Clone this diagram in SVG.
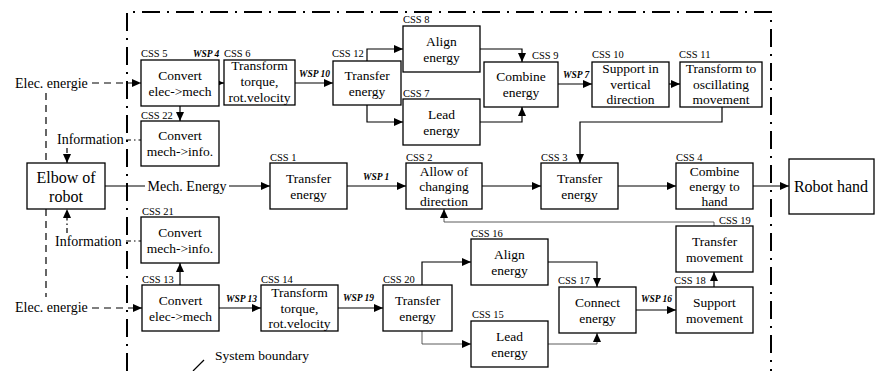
<svg xmlns="http://www.w3.org/2000/svg" width="875" height="371" viewBox="0 0 875 371" font-family="'Liberation Serif', 'Times New Roman', 'DejaVu Serif', serif">
<defs>
<marker id="ah" markerUnits="userSpaceOnUse" markerWidth="9" markerHeight="8" refX="9" refY="4" orient="auto">
<path d="M0,0 L9,4 L0,8 z" fill="#000"/>
</marker>
<style>
text{font-family:'Liberation Serif','Times New Roman','DejaVu Serif',serif;fill:#000}
.box{fill:#fff;stroke:#000;stroke-width:1.3}
.t{font-size:13.5px;text-anchor:middle}
.big{font-size:16px;text-anchor:middle}
.css{font-size:10.5px}
.wsp{font-size:9.5px;font-weight:bold;font-style:italic}
.lbl{font-size:14px}
.c{fill:none;stroke:#000;stroke-width:1.2}
.thin{fill:none;stroke:#333;stroke-width:0.8}
.a{marker-end:url(#ah)}
.dash{stroke-dasharray:7,5}
.dd{stroke-dasharray:5,3,1.5,3}
.bound{fill:none;stroke:#000;stroke-width:2;stroke-dasharray:18,7,2,7}
</style>
</defs>
<rect width="875" height="371" fill="#fff"/>
<path class="bound" d="M127,371 L127,12 L771,12 L771,371"/>

<g id="connectors">
<path class="c dash a" d="M92,83 H141"/>
<path class="c dash" d="M46,93 V163"/>
<path class="c dd" d="M126,140 H141"/>
<path class="c dd a" d="M67,148 V163"/>
<path class="c dd" d="M126,241 H141"/>
<path class="c dd a" d="M67,233 V209"/>
<path class="c dash a" d="M92,308 H142"/>
<path class="c dash" d="M46,209 V297"/>
<path class="c" d="M105,186 H145"/>
<path class="c a" d="M229,186 H270"/>
<path class="c a" d="M219,83 H224"/>
<path class="c a" d="M180,106 V121"/>
<path class="c a" d="M295,83 H333"/>
<path class="c a" d="M367,61 V49 H403"/>
<path class="c a" d="M367,105 V122 H403"/>
<path class="c a" d="M480,49 H522 V62"/>
<path class="c a" d="M480,122 H522 V107"/>
<path class="c a" d="M558,84 H592"/>
<path class="c a" d="M669,84 H680"/>
<path class="c a" d="M722,107 V122 H580 V163"/>
<path class="c a" d="M347,186 H406"/>
<path class="c a" d="M482,186 H541"/>
<path class="c a" d="M618,186 H676"/>
<path class="c a" d="M753,186 H789"/>
<path class="thin a" d="M714,226 V222 H444 V209"/>
<path class="c a" d="M180,285 V263"/>
<path class="c a" d="M219,308 H261"/>
<path class="c a" d="M338,308 H383"/>
<path class="c a" d="M422,285 V262 H471"/>
<path class="thin a" d="M422,331 V344 H471"/>
<path class="c a" d="M548,262 H597 V287"/>
<path class="thin a" d="M548,344 H597 V333"/>
<path class="c a" d="M636,310 H676"/>
<path class="c a" d="M714,287 V272"/>
<path class="c" d="M193,371 L204,360" stroke-width="1"/>
</g>

<g id="labels">
<text class="lbl" x="15" y="88">Elec. energie</text>
<text class="lbl" x="57" y="144">Information</text>
<text class="lbl" x="55" y="246">Information</text>
<text class="lbl" x="15" y="312">Elec. energie</text>
<text class="lbl" x="187" y="191" text-anchor="middle" font-size="14.5">Mech. Energy</text>
<text x="215" y="360" font-size="13.5">System boundary</text>
<text class="wsp" x="193" y="57">WSP 4</text>
<text class="wsp" x="299" y="77">WSP 10</text>
<text class="wsp" x="563" y="78">WSP 7</text>
<text class="wsp" x="363" y="180">WSP 1</text>
<text class="wsp" x="226" y="302">WSP 13</text>
<text class="wsp" x="343" y="301">WSP 19</text>
<text class="wsp" x="641" y="302">WSP 16</text>
</g>

<g id="elbow"><rect class="box" x="27" y="163" width="78" height="46"/><text class="big" x="66" y="183">Elbow of</text><text class="big" x="66" y="202">robot</text></g>
<g id="hand"><rect class="box" x="789" y="159" width="85" height="55"/><text class="big" x="831" y="192">Robot hand</text></g>

<g id="css5"><text class="css" x="141" y="57">CSS 5</text><rect class="box" x="141" y="60" width="78" height="46"/><text class="t" x="180" y="79.5">Convert</text><text class="t" x="180" y="95.5">elec-&gt;mech</text></g>
<g id="css6"><text class="css" x="224" y="57">CSS 6</text><rect class="box" x="224" y="60" width="71" height="45"/><text class="t" x="259.5" y="70">Transform</text><text class="t" x="259.5" y="86">torque,</text><text class="t" x="259.5" y="102">rot.velocity</text></g>
<g id="css12"><text class="css" x="332" y="57">CSS 12</text><rect class="box" x="333" y="61" width="68" height="44"/><text class="t" x="367" y="79.5">Transfer</text><text class="t" x="367" y="95.5">energy</text></g>
<g id="css8"><text class="css" x="403" y="23">CSS 8</text><rect class="box" x="403" y="26" width="77" height="46"/><text class="t" x="441.5" y="45.5">Align</text><text class="t" x="441.5" y="61.5">energy</text></g>
<g id="css7"><text class="css" x="403" y="97">CSS 7</text><rect class="box" x="403" y="99" width="77" height="46"/><text class="t" x="441.5" y="118.5">Lead</text><text class="t" x="441.5" y="134.5">energy</text></g>
<g id="css9"><text class="css" x="532" y="59">CSS 9</text><rect class="box" x="484" y="62" width="74" height="45"/><text class="t" x="521" y="81">Combine</text><text class="t" x="521" y="97">energy</text></g>
<g id="css10"><text class="css" x="592" y="58">CSS 10</text><rect class="box" x="592" y="62" width="77" height="45"/><text class="t" x="630.5" y="73">Support in</text><text class="t" x="630.5" y="88.5">vertical</text><text class="t" x="630.5" y="104">direction</text></g>
<g id="css11"><text class="css" x="679" y="58">CSS 11</text><rect class="box" x="680" y="62" width="82" height="45"/><text class="t" x="721" y="73">Transform to</text><text class="t" x="721" y="88.5">oscillating</text><text class="t" x="721" y="104">movement</text></g>
<g id="css22"><text class="css" x="141" y="119">CSS 22</text><rect class="box" x="141" y="121" width="78" height="45"/><text class="t" x="180" y="140">Convert</text><text class="t" x="180" y="156">mech-&gt;info.</text></g>
<g id="css1"><text class="css" x="270" y="161">CSS 1</text><rect class="box" x="270" y="163" width="77" height="46"/><text class="t" x="308.5" y="182.5">Transfer</text><text class="t" x="308.5" y="198.5">energy</text></g>
<g id="css2"><text class="css" x="406" y="161">CSS 2</text><rect class="box" x="406" y="163" width="76" height="46"/><text class="t" x="444" y="175.5">Allow of</text><text class="t" x="444" y="190.5">changing</text><text class="t" x="444" y="205.5">direction</text></g>
<g id="css3"><text class="css" x="541" y="161">CSS 3</text><rect class="box" x="541" y="163" width="77" height="46"/><text class="t" x="579.5" y="182.5">Transfer</text><text class="t" x="579.5" y="198.5">energy</text></g>
<g id="css4"><text class="css" x="676" y="161">CSS 4</text><rect class="box" x="676" y="163" width="77" height="46"/><text class="t" x="714.5" y="175.5">Combine</text><text class="t" x="714.5" y="190.5">energy to</text><text class="t" x="714.5" y="205.5">hand</text></g>
<g id="css21"><text class="css" x="142" y="215">CSS 21</text><rect class="box" x="141" y="217" width="78" height="46"/><text class="t" x="180" y="236.5">Convert</text><text class="t" x="180" y="252.5">mech-&gt;info.</text></g>
<g id="css19"><text class="css" x="719" y="224">CSS 19</text><rect class="box" x="676" y="226" width="77" height="46"/><text class="t" x="714.5" y="245.5">Transfer</text><text class="t" x="714.5" y="261.5">movement</text></g>
<g id="css16"><text class="css" x="471" y="237">CSS 16</text><rect class="box" x="471" y="239" width="77" height="46"/><text class="t" x="509.5" y="258.5">Align</text><text class="t" x="509.5" y="274.5">energy</text></g>
<g id="css13"><text class="css" x="142" y="283">CSS 13</text><rect class="box" x="142" y="285" width="77" height="46"/><text class="t" x="180.5" y="304.5">Convert</text><text class="t" x="180.5" y="320.5">elec-&gt;mech</text></g>
<g id="css14"><text class="css" x="261" y="283">CSS 14</text><rect class="box" x="261" y="285" width="77" height="46"/><text class="t" x="299.5" y="297">Transform</text><text class="t" x="299.5" y="312.5">torque,</text><text class="t" x="299.5" y="328">rot.velocity</text></g>
<g id="css20"><text class="css" x="383" y="283">CSS 20</text><rect class="box" x="383" y="285" width="69" height="46"/><text class="t" x="417.5" y="304.5">Transfer</text><text class="t" x="417.5" y="320.5">energy</text></g>
<g id="css15"><text class="css" x="472" y="318">CSS 15</text><rect class="box" x="471" y="321" width="77" height="46"/><text class="t" x="509.5" y="340.5">Lead</text><text class="t" x="509.5" y="356.5">energy</text></g>
<g id="css17"><text class="css" x="558" y="284">CSS 17</text><rect class="box" x="559" y="287" width="77" height="46"/><text class="t" x="597.5" y="306.5">Connect</text><text class="t" x="597.5" y="322.5">energy</text></g>
<g id="css18"><text class="css" x="674" y="284">CSS 18</text><rect class="box" x="676" y="287" width="77" height="46"/><text class="t" x="714.5" y="306.5">Support</text><text class="t" x="714.5" y="322.5">movement</text></g>
</svg>
